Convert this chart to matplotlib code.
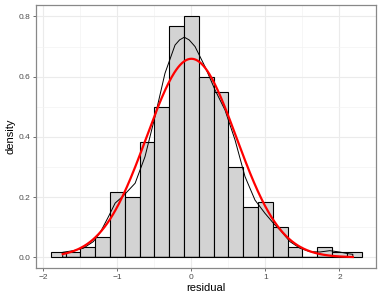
import numpy as np
import matplotlib.pyplot as plt

plt.rcParams['font.family'] = ['Liberation Sans', 'DejaVu Sans']

# histogram of residuals (bin width 0.2, 300 observations)
bin_edges = [-1.9, -1.7, -1.5, -1.3, -1.1, -0.9, -0.7, -0.5, -0.3, -0.1, 0.1,
             0.3, 0.5, 0.7, 0.9, 1.1, 1.3, 1.5, 1.7, 1.9, 2.1, 2.3]
counts = [1, 1, 2, 4, 13, 12, 23, 30, 46, 48, 36, 33, 18, 10, 11, 6, 2, 0, 2, 1, 1]
n_obs = 300

# kernel density estimate
kde_x = [-1.738, -1.595, -1.46, -1.325, -1.23, -1.12, -1.03, -0.92, -0.76, -0.627,
         -0.492, -0.357, -0.221, -0.16, -0.096, -0.03, 0.049, 0.184, 0.319, 0.454,
         0.589, 0.724, 0.859, 0.994, 1.129, 1.196, 1.331, 1.467, 1.6, 1.736,
         1.87, 2.0, 2.14, 2.18]
kde_y = [0.0166, 0.022, 0.030, 0.052, 0.083, 0.135, 0.18, 0.204, 0.246, 0.334,
         0.467, 0.611, 0.705, 0.722, 0.731, 0.722, 0.70, 0.633, 0.556, 0.489,
         0.39, 0.268, 0.19, 0.146, 0.107, 0.091, 0.052, 0.030, 0.0187, 0.0176,
         0.022, 0.0176, 0.011, 0.010]

# fitted normal
mu = 0.0
sigma = 0.605
x_min, x_max = -1.738, 2.18

fig = plt.figure(figsize=(3.82, 3.01), dpi=100)
ax = fig.add_axes([0.0942, 0.1096, 0.9835 - 0.0942, 0.9834 - 0.1096])

widths = np.diff(bin_edges)
dens = np.array(counts) / (n_obs * widths)
ax.bar(bin_edges[:-1], dens, width=widths, align='edge', color='#D3D3D3',
       edgecolor='black', linewidth=0.8, zorder=2)

px = [kde_x[0]] + kde_x + [kde_x[-1]]
py = [0] + kde_y + [0]
ax.plot(px + [px[0]], py + [py[0]], color='black', linewidth=0.7, zorder=3)

xs = np.linspace(x_min, x_max, 300)
ys = np.exp(-0.5 * ((xs - mu) / sigma) ** 2) / (sigma * np.sqrt(2 * np.pi))
ax.plot(xs, ys, color='red', linewidth=1.6, zorder=4)

ax.set_xlim(-2.099, 2.489)
ax.set_ylim(-0.0356, 0.838)
ax.set_xticks([-2, -1, 0, 1, 2])
ax.set_xticklabels(['\u22122', '\u22121', '0', '1', '2'])
ax.set_yticks([0.0, 0.2, 0.4, 0.6, 0.8])
ax.set_yticklabels(['0.0', '0.2', '0.4', '0.6', '0.8'])
ax.set_xticks([-1.5, -0.5, 0.5, 1.5], minor=True)
ax.set_yticks([0.1, 0.3, 0.5, 0.7], minor=True)
ax.grid(which='major', color='#EBEBEB', linewidth=0.8, zorder=0)
ax.grid(which='minor', color='#F3F3F3', linewidth=0.5, zorder=0)
ax.set_axisbelow(True)
ax.tick_params(which='major', length=2.5, width=0.6, color='#555555',
               labelsize=6, labelcolor='#4D4D4D', pad=1.5)
ax.tick_params(which='minor', length=0)
for s in ax.spines.values():
    s.set_color('#888888')
    s.set_linewidth(0.9)

ax.set_xlabel('residual', fontsize=8, labelpad=2)
ax.set_ylabel('density', fontsize=8, labelpad=2)

fig.savefig('out.png', dpi=100)
